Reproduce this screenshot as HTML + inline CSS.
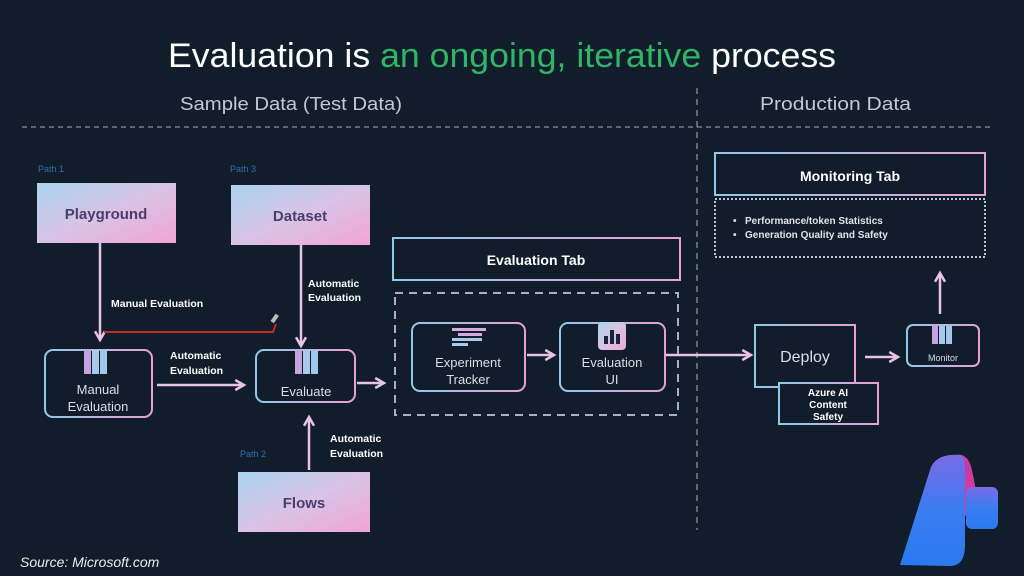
<!DOCTYPE html>
<html><head><meta charset="utf-8"><style>
html,body{margin:0;padding:0;background:#111d2a;}
svg{display:block;font-family:"Liberation Sans",sans-serif;}
</style></head><body>
<svg width="1024" height="576" viewBox="0 0 1024 576" xmlns="http://www.w3.org/2000/svg">
<defs>
<linearGradient id="fill" x1="0" y1="0" x2="1" y2="1">
<stop offset="0" stop-color="#a9d4ef"/><stop offset="0.5" stop-color="#d9c3e6"/><stop offset="1" stop-color="#f2a3d6"/>
</linearGradient>
<linearGradient id="stk" x1="0" y1="0" x2="1" y2="0">
<stop offset="0" stop-color="#8fc9e6"/><stop offset="1" stop-color="#e6a0d2"/>
</linearGradient>
<linearGradient id="logoA" x1="0" y1="0" x2="0" y2="1">
<stop offset="0" stop-color="#7a6be8"/><stop offset="0.5" stop-color="#3a7cf0"/><stop offset="1" stop-color="#2a7af0"/>
</linearGradient>
<linearGradient id="logoB" x1="0" y1="0" x2="0" y2="1">
<stop offset="0" stop-color="#c23aa8"/><stop offset="1" stop-color="#e33c9a"/>
</linearGradient>
<marker id="ar" viewBox="0 0 10 10" refX="8" refY="5" markerWidth="5" markerHeight="5" orient="auto-start-reverse">
<path d="M1,1 L8,5 L1,9" fill="none" stroke="#e8c3e6" stroke-width="2"/>
</marker>
</defs>
<rect width="1024" height="576" fill="#111d2a"/>

<text x="168" y="67" font-size="34" fill="#ffffff" textLength="668" lengthAdjust="spacingAndGlyphs">Evaluation is <tspan fill="#2fb565">an ongoing, iterative</tspan> process</text>
<text x="180" y="110" font-size="18" fill="#c4c8d0" textLength="222" lengthAdjust="spacingAndGlyphs">Sample Data (Test Data)</text>
<text x="760" y="110" font-size="18" fill="#c4c8d0" textLength="151" lengthAdjust="spacingAndGlyphs">Production Data</text>
<line x1="22" y1="127" x2="992" y2="127" stroke="#8a929c" stroke-width="1.3" stroke-dasharray="5,4"/>
<line x1="697" y1="88" x2="697" y2="530" stroke="#8a929c" stroke-width="1.3" stroke-dasharray="6,5"/>

<g font-size="9" fill="#2f6fb8">
<text x="38" y="172">Path 1</text>
<text x="230" y="172">Path 3</text>
<text x="240" y="457">Path 2</text>
</g>

<rect x="37" y="183" width="139" height="60" fill="url(#fill)"/>
<text x="106" y="219" font-size="15" font-weight="bold" fill="#4a3f6a" text-anchor="middle">Playground</text>
<rect x="231" y="185" width="139" height="60" fill="url(#fill)"/>
<text x="300" y="221" font-size="15" font-weight="bold" fill="#4a3f6a" text-anchor="middle">Dataset</text>
<rect x="238" y="472" width="132" height="60" fill="url(#fill)"/>
<text x="304" y="508" font-size="15" font-weight="bold" fill="#4a3f6a" text-anchor="middle">Flows</text>

<g stroke="#e8c3e6" stroke-width="2.5" fill="none">
<line x1="100" y1="243" x2="100" y2="340" marker-end="url(#ar)"/>
<line x1="301" y1="245" x2="301" y2="346" marker-end="url(#ar)"/>
<line x1="157" y1="385" x2="244" y2="385" marker-end="url(#ar)"/>
<line x1="357" y1="383" x2="384" y2="383" marker-end="url(#ar)"/>
<line x1="309" y1="470" x2="309" y2="417" marker-end="url(#ar)"/>
<line x1="527" y1="355" x2="554" y2="355" marker-end="url(#ar)"/>
<line x1="665" y1="355" x2="751" y2="355" marker-end="url(#ar)"/>
<line x1="865" y1="357" x2="898" y2="357" marker-end="url(#ar)"/>
<line x1="940" y1="314" x2="940" y2="273" marker-end="url(#ar)"/>
</g>
<path d="M104,332 L273,332 L276,324" stroke="#c42a2a" stroke-width="2" fill="none"/>
<rect x="273" y="314" width="4" height="9" fill="#bbb" transform="rotate(35 275 318)"/>

<g font-size="10.5" font-weight="bold" fill="#ffffff">
<text x="111" y="307">Manual Evaluation</text>
<text x="308" y="287">Automatic</text><text x="308" y="301">Evaluation</text>
<text x="170" y="359">Automatic</text><text x="170" y="374">Evaluation</text>
<text x="330" y="442">Automatic</text><text x="330" y="457">Evaluation</text>
</g>

<rect x="45" y="350" width="107" height="67" rx="8" fill="none" stroke="url(#stk)" stroke-width="2"/>
<rect x="84" y="350" width="7" height="24" fill="#c6a3e0"/><rect x="92" y="350" width="7" height="24" fill="#a8c8ec"/><rect x="100" y="350" width="7" height="24" fill="#9fc7ec"/>
<text x="98" y="394" font-size="13" fill="#d8dfe8" text-anchor="middle">Manual</text>
<text x="98" y="411" font-size="13" fill="#d8dfe8" text-anchor="middle">Evaluation</text>
<rect x="256" y="350" width="99" height="52" rx="8" fill="none" stroke="url(#stk)" stroke-width="2"/>
<rect x="295" y="350" width="7" height="24" fill="#c6a3e0"/><rect x="303" y="350" width="7" height="24" fill="#a8c8ec"/><rect x="311" y="350" width="7" height="24" fill="#9fc7ec"/>
<text x="306" y="396" font-size="13" fill="#d8dfe8" text-anchor="middle">Evaluate</text>

<rect x="393" y="238" width="287" height="42" fill="none" stroke="url(#stk)" stroke-width="2"/>
<text x="536" y="265" font-size="14" font-weight="bold" fill="#ffffff" text-anchor="middle">Evaluation Tab</text>
<rect x="395" y="293" width="283" height="122" fill="none" stroke="#b8a8c8" stroke-width="2" stroke-dasharray="8,6"/>
<rect x="412" y="323" width="113" height="68" rx="8" fill="none" stroke="url(#stk)" stroke-width="2"/>
<g fill="#d8a8e0"><rect x="452" y="328" width="34" height="3"/><rect x="458" y="333" width="24" height="3"/><rect x="452" y="338" width="30" height="3" fill="#a8c8ec"/><rect x="452" y="343" width="16" height="3" fill="#a8c8ec"/></g>
<text x="468" y="367" font-size="13" fill="#d8dfe8" text-anchor="middle">Experiment</text>
<text x="468" y="384" font-size="13" fill="#d8dfe8" text-anchor="middle">Tracker</text>
<rect x="560" y="323" width="105" height="68" rx="8" fill="none" stroke="url(#stk)" stroke-width="2"/>
<rect x="598" y="322" width="28" height="28" rx="4" fill="url(#fill)"/>
<g fill="#1a2438"><rect x="604" y="336" width="4" height="8"/><rect x="610" y="330" width="4" height="14"/><rect x="616" y="334" width="4" height="10"/></g>
<text x="612" y="367" font-size="13" fill="#d8dfe8" text-anchor="middle">Evaluation</text>
<text x="612" y="384" font-size="13" fill="#d8dfe8" text-anchor="middle">UI</text>

<rect x="715" y="153" width="270" height="42" fill="none" stroke="url(#stk)" stroke-width="2"/>
<text x="850" y="181" font-size="14" font-weight="bold" fill="#ffffff" text-anchor="middle">Monitoring Tab</text>
<rect x="715" y="199" width="270" height="58" fill="none" stroke="#c0c4d0" stroke-width="2" stroke-dasharray="2,2"/>
<g font-size="10" font-weight="bold" fill="#e0e4ea">
<text x="733" y="224">•</text><text x="745" y="224">Performance/token Statistics</text>
<text x="733" y="238">•</text><text x="745" y="238">Generation Quality and Safety</text>
</g>

<rect x="755" y="325" width="100" height="62" fill="#111d2a" stroke="url(#stk)" stroke-width="2"/>
<text x="805" y="362" font-size="16" fill="#d8dfe8" text-anchor="middle">Deploy</text>
<rect x="779" y="383" width="99" height="41" fill="#111d2a" stroke="url(#stk)" stroke-width="2"/>
<g font-size="10" font-weight="bold" fill="#ffffff" text-anchor="middle"><text x="828" y="396">Azure AI</text><text x="828" y="408">Content</text><text x="828" y="420">Safety</text></g>
<rect x="907" y="325" width="72" height="41" rx="6" fill="none" stroke="url(#stk)" stroke-width="2"/>
<rect x="932" y="325" width="6" height="19" fill="#c6a3e0"/><rect x="939" y="325" width="6" height="19" fill="#a8c8ec"/><rect x="946" y="325" width="6" height="19" fill="#9fc7ec"/>
<text x="943" y="361" font-size="9" fill="#d8dfe8" text-anchor="middle">Monitor</text>

<text x="20" y="567" font-size="14" font-style="italic" fill="#e8ecf0">Source: Microsoft.com</text>

<path d="M955,455 Q968,452 972,470 L978,500 L962,520 Z" fill="url(#logoB)"/>
<path d="M960,455 Q935,453 930,470 L900,565 L950,566 Q965,566 965,545 L965,470 Q965,455 960,455 Z" fill="url(#logoA)"/>
<rect x="966" y="487" width="32" height="42" rx="6" fill="url(#logoA)"/>
</svg>
</body></html>
